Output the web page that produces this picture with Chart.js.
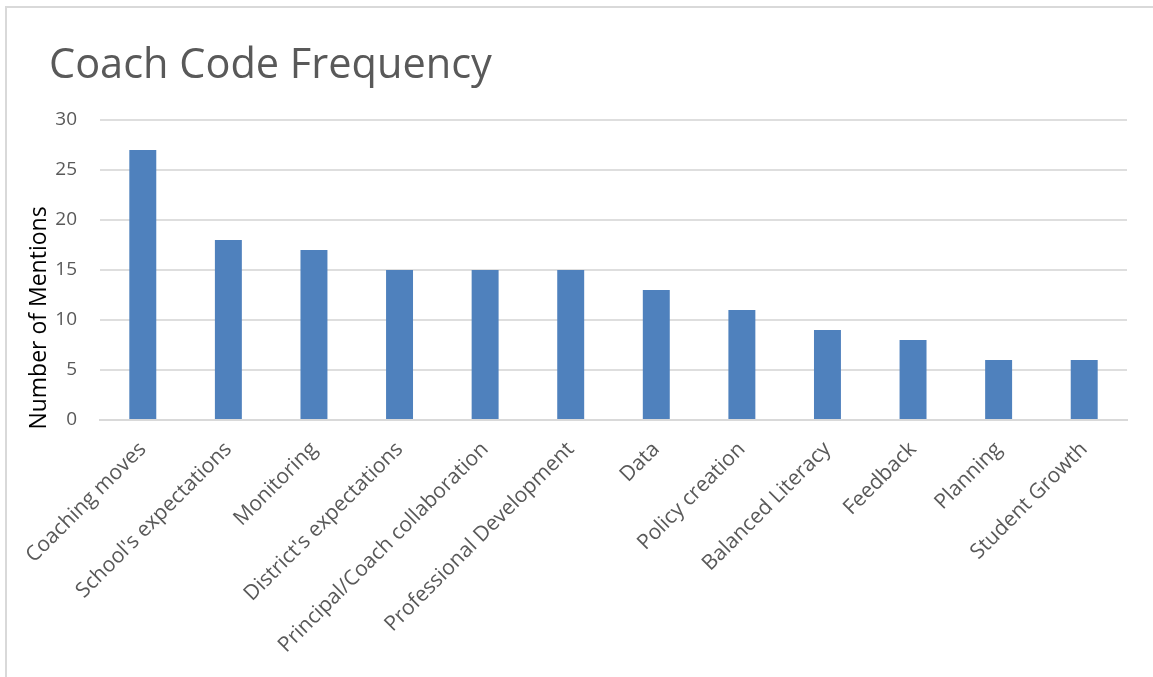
<!DOCTYPE html>
<html>
<head>
<meta charset="utf-8">
<script src="https://cdn.jsdelivr.net/npm/chart.js@4"></script>
<style>
  html, body { margin: 0; padding: 0; background: #ffffff; }
  body { width: 1153px; height: 677px; position: relative; overflow: hidden; }
  #frame {
    position: absolute; left: 5px; top: 6px; width: 1200px; height: 700px;
    border-top: 2px solid #d9d9d9; border-left: 2px solid #d9d9d9;
    box-sizing: border-box;
  }
  #wrap { position: absolute; left: 0; top: 0; width: 1153px; height: 677px; }
</style>
</head>
<body>
<div id="frame"></div>
<div id="wrap"><canvas id="chart" width="1153" height="677"></canvas></div>
<script>
const chartTitle = 'Coach Code Frequency';
const yAxisTitle = 'Number of Mentions';
const categories = [
  'Coaching moves', "School's expectations", 'Monitoring', "District's expectations",
  'Principal/Coach collaboration', 'Professional Development', 'Data', 'Policy creation',
  'Balanced Literacy', 'Feedback', 'Planning', 'Student Growth'
];
const mentions = [27, 18, 17, 15, 15, 15, 13, 11, 9, 8, 6, 6];
const yTicks = [0, 5, 10, 15, 20, 25, 30];

const FONT = "'Open Sans', 'DejaVu Sans', sans-serif";
const GREY_TEXT = '#595959';

// Title and rotated axis title painted at fixed spots in the frame
const textPlugin = {
  id: 'frameText',
  afterDraw(chart) {
    const ctx = chart.ctx;
    ctx.save();
    ctx.fillStyle = GREY_TEXT;
    ctx.font = '400 41.5px ' + FONT;
    ctx.textAlign = 'left';
    ctx.textBaseline = 'alphabetic';
    ctx.fillText(chartTitle, 49, 78);

    ctx.fillStyle = '#000000';
    ctx.font = '400 23px ' + FONT;
    ctx.translate(46, 318);
    ctx.rotate(-Math.PI / 2);
    ctx.textAlign = 'center';
    ctx.textBaseline = 'alphabetic';
    ctx.fillText(yAxisTitle, 0, 0);
    ctx.restore();
  }
};

new Chart(document.getElementById('chart'), {
  type: 'bar',
  data: {
    labels: categories,
    datasets: [{
      label: yAxisTitle,
      data: mentions,
      backgroundColor: '#4f81bd',
      borderWidth: 0,
      barPercentage: 0.315,
      categoryPercentage: 1.0
    }]
  },
  options: {
    responsive: false,
    animation: false,
    devicePixelRatio: 1,
    layout: { padding: { top: 120, right: 26, left: 0, bottom: 0 } },
    plugins: {
      legend: { display: false },
      tooltip: { enabled: false },
      title: { display: false }
    },
    scales: {
      x: {
        grid: { display: false, drawTicks: false },
        border: { display: true, color: '#d9d9d9', width: 2 },
        ticks: {
          color: GREY_TEXT,
          font: { family: FONT, size: 21 },
          maxRotation: 45,
          minRotation: 45,
          autoSkip: false,
          padding: 17
        },
        afterFit(scale) { scale.height = 257; }
      },
      y: {
        min: 0,
        max: 30,
        afterBuildTicks(scale) { scale.ticks = yTicks.map(v => ({ value: v })); },
        grid: { color: '#dedede', lineWidth: 2, drawTicks: false },
        border: { display: false },
        ticks: {
          color: GREY_TEXT,
          font: { family: FONT, size: 19 },
          padding: 23
        },
        afterFit(scale) { scale.width = 100; }
      }
    }
  },
  plugins: [textPlugin]
});
</script>
</body>
</html>
